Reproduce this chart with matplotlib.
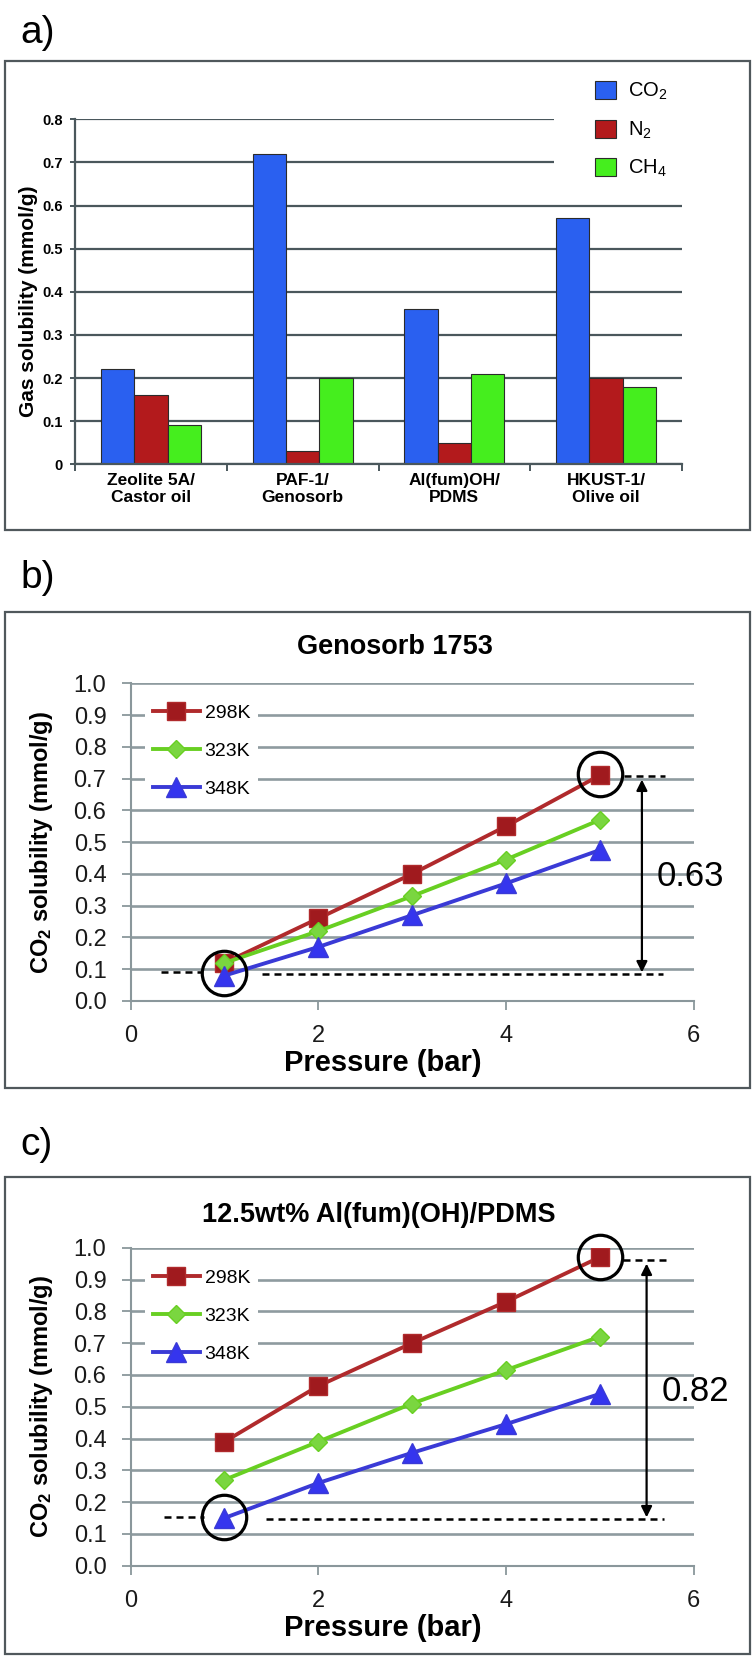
import numpy as np
import matplotlib
matplotlib.use("Agg")
import matplotlib.pyplot as plt
from matplotlib.patches import Rectangle

plt.rcParams['font.family'] = ['Liberation Sans', 'DejaVu Sans']
plt.rcParams['mathtext.fontset'] = 'custom'
plt.rcParams['mathtext.rm'] = 'Liberation Sans'
plt.rcParams['mathtext.it'] = 'Liberation Sans:italic'
plt.rcParams['mathtext.bf'] = 'Liberation Sans:bold'
plt.rcParams['mathtext.default'] = 'regular'

# a) 气体溶解度柱状图数据
materials = ["Zeolite 5A/\nCastor oil", "PAF-1/\nGenosorb", "Al(fum)OH/\nPDMS", "HKUST-1/\nOlive oil"]
gases = ["CO$_2$", "N$_2$", "CH$_4$"]
co2 = [0.22, 0.72, 0.36, 0.57]
n2 = [0.16, 0.03, 0.05, 0.20]
ch4 = [0.09, 0.20, 0.21, 0.18]

# b) c) 压力 - CO2 溶解度
pressure = [1, 2, 3, 4, 5]
temps = ["298K", "323K", "348K"]
geno_298 = [0.12, 0.26, 0.40, 0.55, 0.71]
geno_323 = [0.12, 0.22, 0.33, 0.445, 0.57]
geno_348 = [0.08, 0.17, 0.27, 0.37, 0.475]
pdms_298 = [0.39, 0.565, 0.70, 0.83, 0.97]
pdms_323 = [0.27, 0.39, 0.51, 0.615, 0.72]
pdms_348 = [0.15, 0.26, 0.355, 0.445, 0.54]
geno_low, geno_high, geno_diff = 0.088, 0.71, "0.63"
pdms_low, pdms_high, pdms_diff = 0.15, 0.965, "0.82"

W, H = 756, 1659
fig = plt.figure(figsize=(W / 100, H / 100), dpi=100)


def fr(x0, y0, x1, y1):
    # 像素坐标 -> figure 坐标
    return [x0 / W, 1 - y1 / H, (x1 - x0) / W, (y1 - y0) / H]


def box(y0, y1):
    fig.add_artist(Rectangle((5 / W, 1 - y1 / H), 745 / W, (y1 - y0) / H,
                             transform=fig.transFigure, fill=False,
                             ec='#50585c', lw=1.6))


box(61, 530)
box(612, 1088)
box(1177, 1654)

for lab, yc in [("a)", 33), ("b)", 578), ("c)", 1145)]:
    fig.text(20 / W, 1 - yc / H, lab, fontsize=28, va='center', ha='left')

# ---------------- a) ----------------
axa = fig.add_axes(fr(75, 119.3, 682, 464.3))
x = np.arange(len(materials))
bw = 0.22
cols = ['#2a60f0', '#b31a1c', '#45ee1e']
bars = []
for k, vals in enumerate([co2, n2, ch4]):
    b = axa.bar(x + (k - 1) * bw, vals, bw, color=cols[k], ec='#2b2b2b', lw=0.8, zorder=2)
    bars.append(b)
axa.set_xlim(-0.5, 3.5)
axa.set_ylim(0, 0.8)
axa.set_yticks(np.arange(0, 0.81, 0.1))
axa.set_yticklabels(["0"] + ["%.1f" % v for v in np.arange(0.1, 0.81, 0.1)],
                    fontsize=10.5, fontweight='bold')
axa.set_xticks([-0.5, 0.5, 1.5, 2.5, 3.5])
axa.set_xticklabels([])
axa.set_xticks(x, minor=True)
axa.set_xticklabels(materials, minor=True, fontsize=12.5, fontweight='bold', linespacing=1.2)
axa.tick_params(axis='x', which='major', length=5, width=1.4, color='#4a575c', direction='out')
axa.tick_params(axis='x', which='minor', length=0, pad=6)
axa.tick_params(axis='y', length=3.6, width=1.4, color='#4a575c', pad=5)
axa.yaxis.grid(True, color='#4a575c', lw=1.6)
axa.set_axisbelow(True)
for s in ['top', 'right']:
    axa.spines[s].set_visible(False)
for s in ['left', 'bottom']:
    axa.spines[s].set_color('#4a575c')
    axa.spines[s].set_linewidth(1.6)
axa.add_patch(Rectangle((2.657, 0.65), 1.0, 0.17, fc='white', ec='none', zorder=0.9, clip_on=False))
axa.text(-0.076, 0.473, "Gas solubility (mmol/g)", transform=axa.transAxes, rotation=90,
         ha='center', va='center', fontsize=15, fontweight='bold')
axa.legend(bars, gases, loc='upper left', bbox_to_anchor=(595 / W, 1 - 81 / H),
           bbox_transform=fig.transFigure, frameon=False, borderpad=0, borderaxespad=0,
           handlelength=1.03, handleheight=1.03, handletextpad=0.62, labelspacing=0.85,
           fontsize=14.5)


# ---------------- b) c) ----------------
line_cols = ['#b02a2c', '#68cf22', '#3a3ad6']
face_cols = ['#a01a1e', '#7ad640', '#3535ee']
marks = [('s', 13), ('D', 9.5), ('^', 14)]


def iso_panel(ax, series, title, tx, ty, low, high, diff, dash_top, dash_low, arr_x, txt_y,
              low_circle, high_circle, leg_top):
    lines = []
    for k, vals in enumerate(series):
        ln, = ax.plot(pressure, vals, color=line_cols[k], lw=2.8, marker=marks[k][0],
                      ms=marks[k][1], mfc=face_cols[k], mec=line_cols[k], mew=1.0,
                      label=temps[k], zorder=3)
        lines.append(ln)
    ax.set_xlim(0, 6)
    ax.set_ylim(0, 1.0)
    ax.set_xticks([0, 2, 4, 6])
    ax.set_yticks(np.arange(0, 1.01, 0.1))
    ax.set_yticklabels(["%.1f" % v for v in np.arange(0, 1.01, 0.1)])
    ax.tick_params(labelsize=17, length=6.5, width=1.3, color='#8a979b', colors='#1a1a1a')
    ax.tick_params(axis='y', pad=11)
    ax.tick_params(axis='x', pad=11)
    for t in ax.get_xticklines() + ax.get_yticklines():
        t.set_color('#8a979b')
    ax.yaxis.grid(True, color='#8e9b9f', lw=1.9)
    ax.set_axisbelow(True)
    for s in ['top', 'right']:
        ax.spines[s].set_visible(False)
    for s in ['left', 'bottom']:
        ax.spines[s].set_color('#8a979b')
        ax.spines[s].set_linewidth(1.5)
    ax.text(tx, ty, title, transform=ax.transAxes, ha='center', va='center',
            fontsize=19.5, fontweight='bold')
    ax.text(0.448, -0.195, "Pressure (bar)", transform=ax.transAxes, ha='center',
            va='center', fontsize=21, fontweight='bold')
    ax.text(-0.158, 0.5, r"$\mathbf{CO_2}$ solubility (mmol/g)", transform=ax.transAxes,
            rotation=90, ha='center', va='center', fontsize=17, fontweight='bold')
    ax.legend(handles=lines, loc='upper left', bbox_to_anchor=(145 / W, 1 - leg_top / H),
              bbox_transform=fig.transFigure, fontsize=14, frameon=True, facecolor='white',
              edgecolor='none', framealpha=1, fancybox=False, borderpad=0.41,
              borderaxespad=0, handlelength=2.4, handletextpad=0.26, labelspacing=1.05,
              numpoints=1)
    # 圆圈标记
    for cx, cy in [low_circle, high_circle]:
        ax.plot([cx], [cy], 'o', ms=32, mfc='none', mec='black', mew=2.3, zorder=6, clip_on=False)
    # 虚线
    ax.plot(dash_top[0], [high, high], color='black', lw=1.8, ls=(0, (2.8, 2)), clip_on=False, zorder=5)
    ax.plot(dash_low[0], [dash_low[2], dash_low[2]], color='black', lw=1.8, ls=(0, (2.8, 2)),
            clip_on=False, zorder=5)
    ax.plot(dash_low[1], [low, low], color='black', lw=1.8, ls=(0, (2.8, 2)), clip_on=False, zorder=5)
    # 双向箭头
    ax.annotate('', xy=(arr_x, high - 0.01), xytext=(arr_x, low + 0.005),
                arrowprops=dict(arrowstyle='<|-|>', color='black', lw=1.6, mutation_scale=16,
                                shrinkA=0, shrinkB=0), annotation_clip=False)
    ax.text(arr_x + 0.52, txt_y, diff, fontsize=25, ha='center', va='center')


axb = fig.add_axes(fr(130.7, 683.3, 693.5, 1001))
iso_panel(axb, [geno_298, geno_323, geno_348], "Genosorb 1753", 0.47, 1.114,
          geno_low - 0.003, geno_high - 0.003, geno_diff,
          ([5.26, 5.70],), ([0.32, 0.76], [1.40, 5.67], 0.092), 5.45, 0.393,
          (1, 0.088), (5, 0.714), 696)

axc = fig.add_axes(fr(130.7, 1247.7, 693.5, 1565.7))
iso_panel(axc, [pdms_298, pdms_323, pdms_348], "12.5wt% Al(fum)(OH)/PDMS", 0.44, 1.103,
          pdms_low - 0.003, pdms_high - 0.005, pdms_diff,
          ([5.25, 5.72],), ([0.36, 0.78], [1.44, 5.69], 0.153), 5.5, 0.548,
          (1, 0.153), (5, 0.971), 1261)

fig.savefig("out.png", dpi=100)
